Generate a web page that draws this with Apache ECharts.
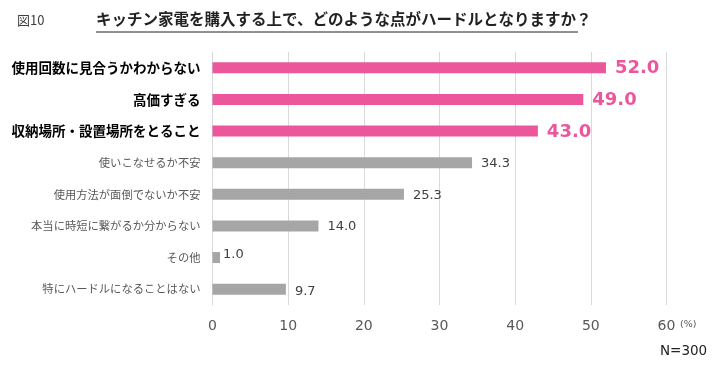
<!DOCTYPE html>
<html><head><meta charset="utf-8">
<script src="https://cdn.jsdelivr.net/npm/echarts@6/dist/echarts.min.js"></script>
<style>html,body{margin:0;padding:0;background:#fff}#c{width:720px;height:366px}</style>
</head><body><div id="c"></div>
<script>
const categories = ['使用回数に見合うかわからない','高価すぎる','収納場所・設置場所をとること','使いこなせるか不安','使用方法が面倒でないか不安','本当に時短に繋がるか分からない','その他','特にハードルになることはない'];
const values = [52.0, 49.0, 43.0, 34.3, 25.3, 14.0, 1.0, 9.7];
const highlighted = [true, true, true, false, false, false, false, false];
const xTicks = [0, 10, 20, 30, 40, 50, 60];

const PINK = '#EC579B', GRAY = '#A6A6A6';
const FONT = '"Noto Sans CJK JP", "Noto Sans", sans-serif';
const NUM = '"DejaVu Sans", sans-serif';
const chart = echarts.init(document.getElementById('c'));
chart.setOption({
  animation: false,
  textStyle: { fontFamily: FONT },
  grid: { left: 212.5, right: 53.5, top: 52, bottom: 61, containLabel: false },
  xAxis: {
    type: 'value', min: xTicks[0], max: xTicks[xTicks.length-1], interval: 10,
    axisLine: { show: false }, axisTick: { show: false },
    splitLine: { lineStyle: { color: '#D9D9D9', width: 1 } },
    axisLabel: { color: '#595959', fontSize: 14, margin: 14, fontFamily: NUM }
  },
  yAxis: {
    type: 'category', data: categories, inverse: true,
    axisLine: { show: true, lineStyle: { color: '#D9D9D9' } }, axisTick: { show: false },
    axisLabel: {
      margin: 12, fontFamily: FONT,
      formatter: (v, i) => highlighted[i] ? '{b|' + v + '}' : '{n|' + v + '}',
      rich: {
        b: { fontSize: 13.5, fontWeight: 'bold', color: '#000', fontFamily: FONT },
        n: { fontSize: 11.3, color: '#595959', fontFamily: FONT }
      }
    }
  },
  series: [{
    type: 'bar', barWidth: 11,
    data: values.map((v, i) => ({
      value: v,
      itemStyle: { color: highlighted[i] ? PINK : GRAY },
      label: highlighted[i]
        ? { fontSize: 18, fontWeight: 'bold', color: PINK, distance: 9, offset: [0, 1] }
        : { fontSize: 13, color: '#404040', distance: (v < 5 ? 3 : 9), offset: (v < 5 ? [0, -3] : (v < 12 ? [0, 2] : [0, 1])) }
    })),
    label: { show: true, position: 'right', fontFamily: NUM, formatter: p => p.value.toFixed(1) }
  }],
  graphic: [
    { type: 'text', left: 17, top: 14, style: { text: '図10', fontSize: 13, fill: '#404040', fontFamily: FONT } },
    { type: 'text', left: 96, top: 11, style: { text: 'キッチン家電を購入する上で、どのような点がハードルとなりますか？', fontSize: 15.5, fontWeight: 'bold', fill: '#222', fontFamily: FONT } },
    { type: 'line', shape: { x1: 96, y1: 32, x2: 578, y2: 32 }, style: { stroke: '#222', lineWidth: 1 } },
    { type: 'text', left: 680, top: 320, style: { text: '(%)', fontSize: 9.5, fill: '#595959', fontFamily: NUM } },
    { type: 'text', left: 660, top: 344, style: { text: 'N=300', fontSize: 13.5, fill: '#222', fontFamily: NUM } }
  ]
});
</script></body></html>
